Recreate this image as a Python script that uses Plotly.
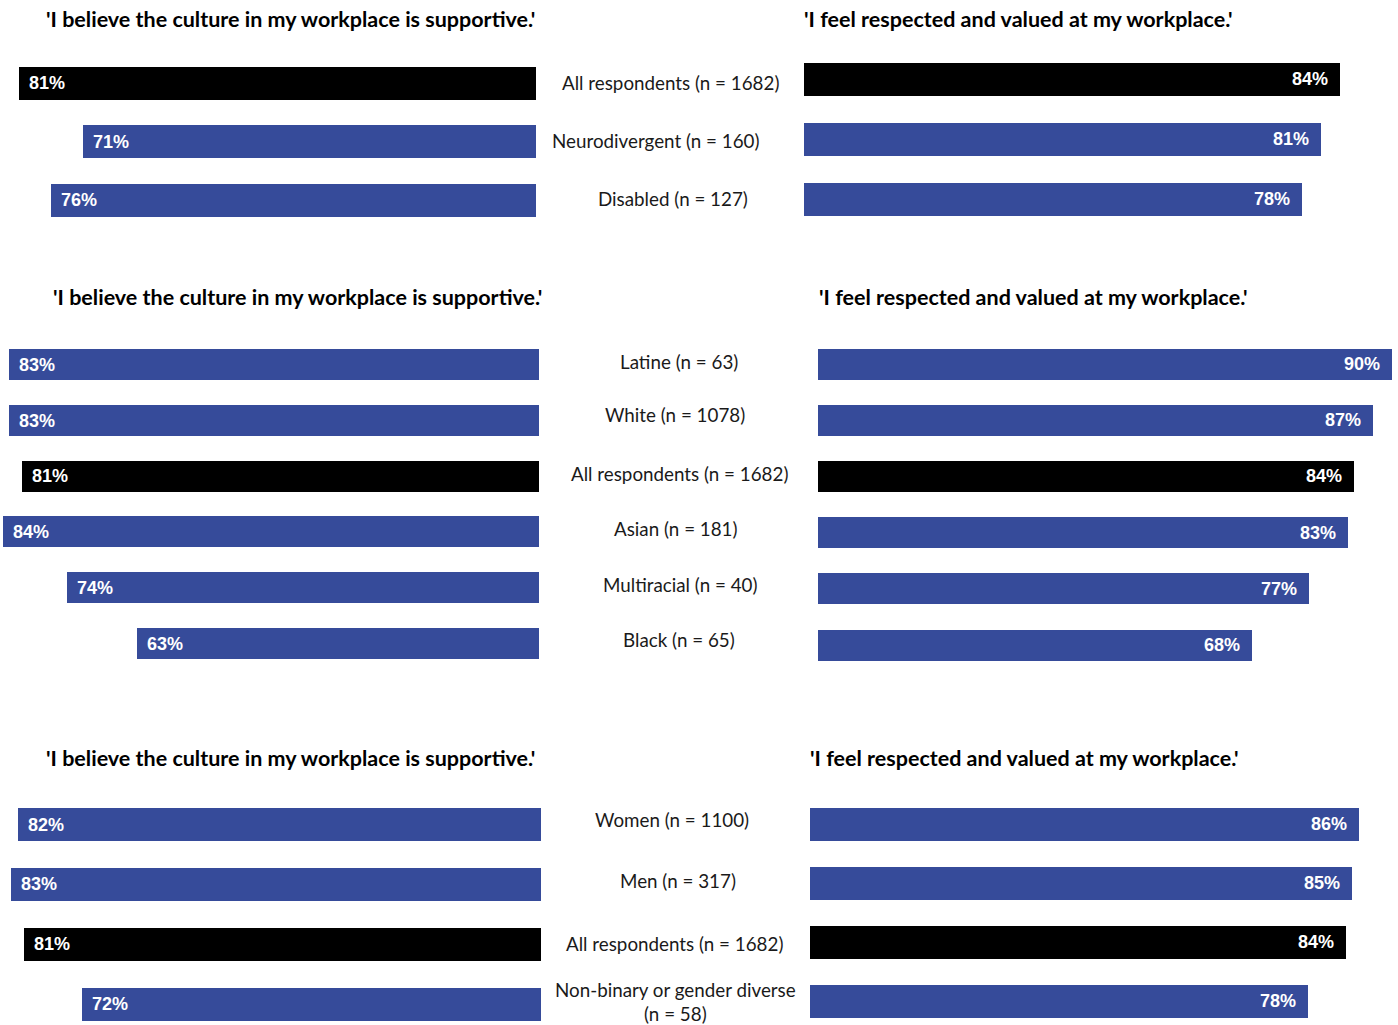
import plotly.graph_objects as go

W, H = 1398, 1025
BLUE = '#364B9A'
BLACK = '#000000'

# ---------------- data ----------------
title_left = "'I believe the culture in my workplace is supportive.'"
title_right = "'I feel respected and valued at my workplace.'"

p1_groups = ["All respondents (n = 1682)", "Neurodivergent (n = 160)", "Disabled (n = 127)"]
p1_supportive = [81, 71, 76]
p1_respected = [84, 81, 78]

p2_groups = ["Latine (n = 63)", "White (n = 1078)", "All respondents (n = 1682)",
             "Asian (n = 181)", "Multiracial (n = 40)", "Black (n = 65)"]
p2_supportive = [83, 83, 81, 84, 74, 63]
p2_respected = [90, 87, 84, 83, 77, 68]

p3_groups = ["Women (n = 1100)", "Men (n = 317)", "All respondents (n = 1682)",
             "Non-binary or gender diverse<br>(n = 58)"]
p3_supportive = [82, 83, 81, 72]
p3_respected = [86, 85, 84, 78]

# ---------------- layout geometry (pixels) ----------------
PX_PER = 6.38  # pixels per percentage point
panels = [
    dict(groups=p1_groups, left=p1_supportive, right=p1_respected,
         lbase=536, lc0=83, ls=58.5, lh=33,
         rbase=804, rc0=78.5, rs=60, rh=33,
         labx=[670, 655.5, 673], labshift=[1, 1, 2],
         ltitle=(290, 19), rtitle=(1018, 19)),
    dict(groups=p2_groups, left=p2_supportive, right=p2_respected,
         lbase=539, lc0=365, ls=55.7, lh=31,
         rbase=818, rc0=364, rs=56.2, rh=31,
         labx=[679, 675, 679, 675.5, 679.5, 679], labshift=[4, 6, 3, 4, 3, 4],
         ltitle=(290, 297), rtitle=(1033, 297)),
    dict(groups=p3_groups, left=p3_supportive, right=p3_respected,
         lbase=541, lc0=824.5, ls=59.8, lh=33,
         rbase=810, rc0=824, rs=59, rh=33,
         labx=[672, 678, 674.5, 675], labshift=[5, 4, 1, 2],
         ltitle=(290, 758), rtitle=(1024, 758)),
]
panels[1]['ltitle'] = (297, 297)

LABEL_FONT = dict(family='Lato, Noto Sans', size=18.8, color='#1a1a1a')
TITLE_FONT = dict(family='Lato, Noto Sans', size=21.5, color='black')
VALUE_FONT = dict(family='Liberation Sans, Arial', size=18, color='white')


def is_all(g):
    return g.startswith("All respondents")


fig = go.Figure()
layout = dict(width=W, height=H, margin=dict(l=0, r=0, t=0, b=0),
              paper_bgcolor='white', plot_bgcolor='rgba(0,0,0,0)',
              showlegend=False, bargap=0)
annotations = []

ax = 0
for p in panels:
    n = len(p['groups'])
    for side in ('left', 'right'):
        ax += 1
        xa = 'xaxis' if ax == 1 else f'xaxis{ax}'
        ya = 'yaxis' if ax == 1 else f'yaxis{ax}'
        xr = 'x' if ax == 1 else f'x{ax}'
        yr = 'y' if ax == 1 else f'y{ax}'
        vals = p[side]
        if side == 'left':
            base, c0, s, bh = p['lbase'], p['lc0'], p['ls'], p['lh']
            R = (base - 1) / PX_PER
            xdom = [(base - R * PX_PER) / W, base / W]
            xrange = [R, 0]
        else:
            base, c0, s, bh = p['rbase'], p['rc0'], p['rs'], p['rh']
            R = (W - base) / PX_PER
            xdom = [base / W, 1.0]
            xrange = [0, R]
        top = max(c0 - s / 2, 0)
        bot = min(c0 + (n - 0.5) * s, H)
        ydom = [1 - bot / H, 1 - top / H]
        yrange = [(bot - c0) / s, (top - c0) / s]
        colors = [BLACK if is_all(g) else BLUE for g in p['groups']]
        fig.add_trace(go.Bar(
            x=vals, y=list(range(n)), orientation='h',
            marker=dict(color=colors, line=dict(width=0)),
            width=bh / s, xaxis=xr, yaxis=yr, hoverinfo='skip'))
        layout[xa] = dict(domain=xdom, range=xrange, visible=False, anchor=yr, fixedrange=True)
        layout[ya] = dict(domain=ydom, range=yrange, visible=False, anchor=xr, fixedrange=True)
        for i, v in enumerate(vals):
            annotations.append(dict(
                x=v, y=i, xref=xr, yref=yr, text=f"<b>{v}%</b>", showarrow=False,
                xanchor='left' if side == 'left' else 'right',
                xshift=8 if side == 'left' else -10,
                font=VALUE_FONT))
        if side == 'left':
            for i, g in enumerate(p['groups']):
                annotations.append(dict(
                    x=p['labx'][i] / W, y=i, xref='paper', yref=yr, text=g,
                    showarrow=False, xanchor='center', yanchor='middle',
                    yshift=p['labshift'][i], font=LABEL_FONT))
    for (tx, ty), t in ((p['ltitle'], title_left), (p['rtitle'], title_right)):
        annotations.append(dict(
            x=tx / W, y=1 - ty / H, xref='paper', yref='paper', text=f"<b>{t}</b>",
            showarrow=False, xanchor='center', yanchor='middle', font=TITLE_FONT))

layout['annotations'] = annotations
fig.update_layout(**layout)
fig.write_html("out.html", config=dict(displayModeBar=False))
